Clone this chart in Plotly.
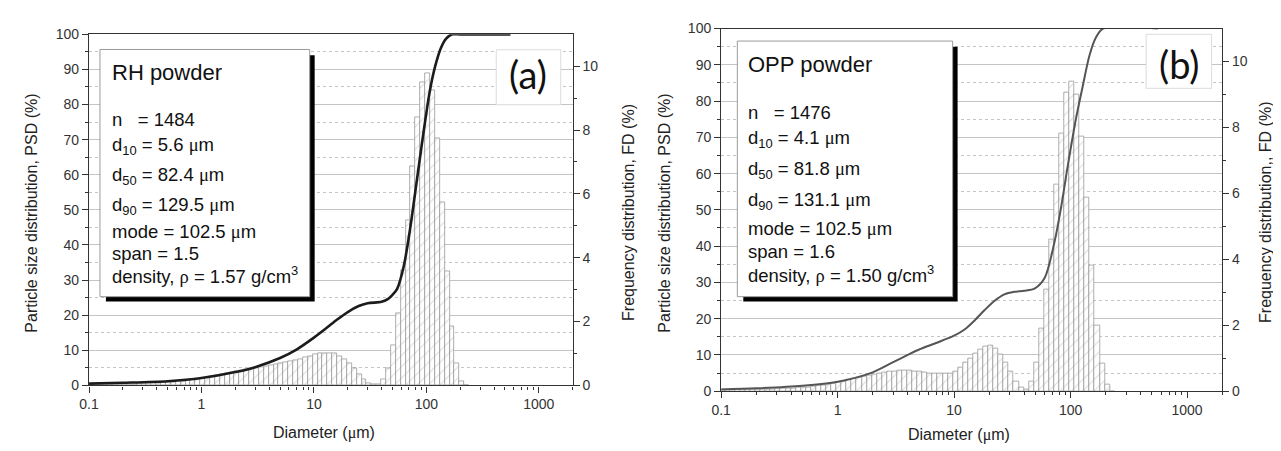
import math
import plotly.graph_objects as go

W, H = 1281, 451
OFF = 8  # the page body has an 8px margin, positions below are screen pixels

# bin centres (um), shared by both panels
diam_um = [0.1025, 0.1133, 0.1252, 0.1384, 0.1530, 0.1691, 0.1869, 0.2066, 0.2283, 0.2524, 0.2789, 0.3083,
           0.3408, 0.3766, 0.4163, 0.4601, 0.5086, 0.5621, 0.6213, 0.6867, 0.7591, 0.8390, 0.9274,
           1.025, 1.133, 1.252, 1.384, 1.530, 1.691, 1.869, 2.066, 2.283, 2.524, 2.789, 3.083,
           3.408, 3.766, 4.163, 4.601, 5.086, 5.621, 6.213, 6.867, 7.591, 8.390, 9.274,
           10.25, 11.33, 12.52, 13.84, 15.30, 16.91, 18.69, 20.66, 22.83, 25.24, 27.89, 30.83,
           34.08, 37.66, 41.63, 46.01, 50.86, 56.21, 62.13, 68.67, 75.91, 83.90, 92.74,
           102.5, 113.3, 125.2, 138.4, 153.0, 169.1, 186.9, 206.6, 228.3]

# frequency distribution FD (%) - RH powder
fd_rh = [0.02, 0.02, 0.02, 0.02, 0.02, 0.03, 0.03, 0.03, 0.04, 0.04, 0.05, 0.05,
         0.06, 0.07, 0.08, 0.09, 0.10, 0.11, 0.12, 0.14, 0.16, 0.18, 0.20,
         0.22, 0.25, 0.28, 0.31, 0.34, 0.37, 0.40, 0.43, 0.46, 0.49, 0.52, 0.55,
         0.58, 0.61, 0.63, 0.66, 0.68, 0.71, 0.75, 0.79, 0.83, 0.88, 0.92,
         0.96, 1.00, 1.02, 1.02, 1.00, 0.92, 0.81, 0.68, 0.53, 0.36, 0.18, 0.07,
         0.02, 0.02, 0.18, 0.55, 1.26, 2.27, 3.60, 5.17, 6.85, 8.41, 9.50,
         9.77, 9.26, 7.75, 5.73, 3.58, 1.85, 0.69, 0.13, 0.0]

# frequency distribution FD (%) - OPP powder
fd_opp = [0.04, 0.04, 0.04, 0.04, 0.04, 0.05, 0.05, 0.05, 0.05, 0.06, 0.06, 0.07,
          0.07, 0.08, 0.09, 0.10, 0.11, 0.12, 0.14, 0.16, 0.18, 0.21, 0.24,
          0.27, 0.30, 0.34, 0.38, 0.42, 0.45, 0.48, 0.51, 0.54, 0.57, 0.59, 0.61,
          0.62, 0.62, 0.62, 0.61, 0.59, 0.57, 0.55, 0.54, 0.53, 0.53, 0.55,
          0.60, 0.72, 0.86, 1.00, 1.14, 1.26, 1.34, 1.37, 1.30, 1.10, 0.86, 0.60,
          0.28, 0.12, 0.06, 0.30, 0.88, 1.90, 3.08, 4.60, 6.26, 7.83, 9.05,
          9.39, 9.00, 7.73, 5.87, 3.82, 2.00, 0.83, 0.20, 0.0]

# cumulative particle size distribution PSD (%)
psd_rh_x = [0.1, 0.2, 0.5, 1, 2, 3, 5, 7, 10, 13, 16, 20, 25, 30, 40, 45, 50, 55, 63, 72, 82, 94,
            107, 120, 135, 150, 170, 200, 560]
psd_rh_y = [0.5, 0.75, 1.2, 2.1, 3.8, 5.2, 7.8, 10.2, 13.6, 16.4, 18.7, 20.9, 22.6, 23.4, 23.8, 24.5,
            25.8, 27.5, 34, 45, 58, 71.7, 83.6, 91, 96.2, 98.8, 100, 100, 100]

psd_opp_x = [0.1, 0.2, 0.5, 1, 2, 3, 4, 5, 7, 10, 12.3, 15, 18.2, 22, 27, 33, 40, 49, 60, 72.6, 82.8,
             94.4, 111, 127, 145, 165, 190, 560]
psd_opp_y = [0.5, 0.8, 1.5, 2.6, 5.2, 8.0, 10.0, 11.5, 13.3, 15.3, 17.0, 19.5, 22.3, 24.8, 26.7, 27.4,
             27.7, 28.3, 31.3, 41, 50.6, 62, 75, 84, 92.5, 97.5, 100, 100]

MU = "<span style='font-family:Liberation Serif'>μ</span>"
RHO = "<span style='font-family:Liberation Serif'>ρ</span>"

rh_title = "RH powder"
rh_lines = ["n\u00a0\u00a0\u00a0= 1484", "d<sub>10</sub> = 5.6 " + MU + "m", "d<sub>50</sub> = 82.4 " + MU + "m",
            "d<sub>90</sub> = 129.5 " + MU + "m", "mode = 102.5 " + MU + "m", "span = 1.5",
            "density, " + RHO + " = 1.57 g/cm<sup>3</sup>"]
opp_title = "OPP powder"
opp_lines = ["n\u00a0\u00a0\u00a0= 1476", "d<sub>10</sub> = 4.1 " + MU + "m", "d<sub>50</sub> = 81.8 " + MU + "m",
             "d<sub>90</sub> = 131.1 " + MU + "m", "mode = 102.5 " + MU + "m", "span = 1.6",
             "density, " + RHO + " = 1.50 g/cm<sup>3</sup>"]

FONT = "Arial, Liberation Sans, sans-serif"
AX = "#333333"
GRID = "#c4c4c4"


def px(x):
    return (x - OFF) / W


def py(y):
    return 1 - (y - OFF) / H


def bin_edges(centers):
    lo, hi = [], []
    n = len(centers)
    for i, c in enumerate(centers):
        prev = centers[i - 1] if i > 0 else c * c / centers[i + 1]
        nxt = centers[i + 1] if i < n - 1 else c * c / centers[i - 1]
        lo.append(math.sqrt(prev * c))
        hi.append(math.sqrt(c * nxt))
    return lo, hi


lo, hi = bin_edges(diam_um)
bar_x = [(a + b) / 2 for a, b in zip(lo, hi)]
bar_w = [b - a for a, b in zip(lo, hi)]

fig = go.Figure()

panels = [
    dict(fd=fd_rh, cx=psd_rh_x, cy=psd_rh_y, xa="x", yb="y", yo="y2", ccol="#1c1c1c", cw=2.6),
    dict(fd=fd_opp, cx=psd_opp_x, cy=psd_opp_y, xa="x2", yb="y3", yo="y4", ccol="#555555", cw=2.0),
]

for p in panels:
    fig.add_trace(go.Bar(
        x=bar_x, y=p["fd"], width=bar_w, xaxis=p["xa"], yaxis=p["yb"],
        marker=dict(color="white", line=dict(color="#9a9a9a", width=0.8),
                    pattern=dict(shape="/", fgcolor="#b5b5b5", bgcolor="white", size=8, solidity=0.12)),
        showlegend=False, hoverinfo="skip"))
    fig.add_trace(go.Scatter(
        x=p["cx"], y=p["cy"], xaxis=p["xa"], yaxis=p["yo"], mode="lines",
        line=dict(color=p["ccol"], width=p["cw"], shape="spline", smoothing=0.8),
        showlegend=False, hoverinfo="skip"))

tickfont = dict(family=FONT, size=14, color=AX)


def xaxis_cfg(domain, anchor):
    return dict(type="log", range=[-1, math.log10(2000)], domain=domain, anchor=anchor,
                showline=True, linecolor=AX, linewidth=1.3, mirror=True,
                ticks="outside", ticklen=6, tickcolor=AX, tickwidth=1.2,
                dtick=1, exponentformat="none", showgrid=False, zeroline=False, tickfont=tickfont,
                minor=dict(ticks="outside", ticklen=3, dtick="D1", tickcolor=AX, showgrid=False))


def fd_axis_cfg(domain, anchor):
    return dict(domain=domain, anchor=anchor, side="right", range=[0, 11],
                tickvals=[0, 2, 4, 6, 8, 10], ticks="outside", ticklen=6, tickcolor=AX, tickwidth=1.2,
                minor=dict(tickvals=[1, 3, 5, 7, 9], ticks="outside", ticklen=3, tickcolor=AX),
                showgrid=False, showline=True, linecolor=AX, linewidth=1.3, zeroline=False,
                tickfont=tickfont)


def psd_axis_cfg(over, anchor):
    return dict(overlaying=over, anchor=anchor, side="left", range=[0, 100], dtick=10,
                ticks="outside", ticklen=6, tickcolor=AX, tickwidth=1.2,
                showgrid=True, gridcolor=GRID, gridwidth=1,
                minor=dict(dtick=5, ticks="outside", ticklen=3, tickcolor=AX,
                           showgrid=True, griddash="dot", gridcolor=GRID),
                showline=True, linecolor=AX, linewidth=1.3, zeroline=False, tickfont=tickfont)


A_X = [px(79.6), px(567)]
A_Y = [py(391), py(27)]
B_X = [px(716.7), px(1221.6)]
B_Y = [py(397), py(21)]

fig.update_layout(
    width=W, height=H, margin=dict(l=0, r=0, t=0, b=0),
    paper_bgcolor="white", plot_bgcolor="white", barmode="overlay", bargap=0,
    font=dict(family=FONT, color="#222"),
    xaxis=xaxis_cfg(A_X, "y"),
    yaxis=fd_axis_cfg(A_Y, "x"),
    yaxis2=psd_axis_cfg("y", "x"),
    xaxis2=xaxis_cfg(B_X, "y3"),
    yaxis3=fd_axis_cfg(B_Y, "x2"),
    yaxis4=psd_axis_cfg("y3", "x2"),
)

shapes = []
annotations = []


def info_box(left, top, right, bottom):
    shapes.append(dict(type="rect", xref="paper", yref="paper", layer="above",
                       x0=px(left + 6), x1=px(right + 5), y0=py(bottom + 5), y1=py(top + 6),
                       fillcolor="black", line=dict(width=0)))
    shapes.append(dict(type="rect", xref="paper", yref="paper", layer="above",
                       x0=px(left), x1=px(right), y0=py(bottom), y1=py(top),
                       fillcolor="white", line=dict(color="#9a9a9a", width=1)))


def label_box(left, top, right, bottom, text, cx, cy):
    shapes.append(dict(type="rect", xref="paper", yref="paper", layer="above",
                       x0=px(left), x1=px(right), y0=py(bottom), y1=py(top),
                       fillcolor="white", line=dict(color="#dcdcdc", width=1)))
    annotations.append(dict(text=text, x=px(cx), y=py(cy), xref="paper", yref="paper",
                            showarrow=False, xanchor="center", yanchor="middle",
                            font=dict(family="Lato, Open Sans, sans-serif", size=38, color="#111")))


def info_text(x, title, title_y, lines, lines_y):
    annotations.append(dict(text=title, x=px(x), y=py(title_y), xref="paper", yref="paper",
                            showarrow=False, xanchor="left", yanchor="middle",
                            font=dict(family=FONT, size=22, color="#111")))
    for t, yy in zip(lines, lines_y):
        annotations.append(dict(text=t, x=px(x), y=py(yy), xref="paper", yref="paper",
                                showarrow=False, xanchor="left", yanchor="middle",
                                font=dict(family=FONT, size=18.5, color="#111")))


def axis_title(text, x, y, angle):
    annotations.append(dict(text=text, x=px(x), y=py(y), xref="paper", yref="paper",
                            showarrow=False, xanchor="center", yanchor="middle", textangle=angle,
                            font=dict(family=FONT, size=16, color="#222")))


# panel (a)
info_box(90.6, 42.7, 302, 299)
info_text(101, rh_title, 67, rh_lines, [115, 143, 174, 205, 231, 254, 277])
label_box(490, 43, 555, 100, "(a)", 522, 68)
axis_title("Particle size distribution, PSD (%)", 22, 212, -90)
axis_title("Frequency distribution, FD (%)", 624, 212, -90)
axis_title("Diameter (" + MU + "m)", 316, 440, 0)

# panel (b)
info_box(733, 34, 950, 299)
info_text(742, opp_title, 58, opp_lines, [108, 136, 168, 200, 228, 252, 275])
label_box(1145, 27, 1211, 83, "(b)", 1178, 58)
axis_title("Particle size distribution, PSD (%)", 660, 212, -90)
axis_title("Frequency distribution,, FD (%)", 1266, 212, -90)
axis_title("Diameter (" + MU + "m)", 956, 442, 0)

fig.update_layout(shapes=shapes, annotations=annotations)

fig.write_html("out.html")
